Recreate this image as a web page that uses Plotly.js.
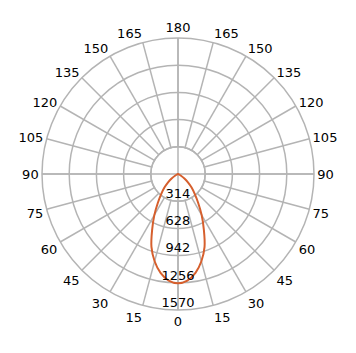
<!DOCTYPE html>
<html>
<head>
<meta charset="utf-8">
<script src="https://cdn.plot.ly/plotly-3.0.1.min.js"></script>
<style>html,body{margin:0;padding:0;background:#fff;}#chart{width:356px;height:353px;}</style>
</head>
<body>
<div id="chart"></div>
<script>
// Angular ticks (degrees) and their labels (0..180 on each side)
var angleTicks = [0,15,30,45,60,75,90,105,120,135,150,165,180,195,210,225,240,255,270,285,300,315,330,345];
var angleLabels = ['0','15','30','45','60','75','90','105','120','135','150','165','180','165','150','135','120','105','90','75','60','45','30','15'];
// Radial ticks
var radialTicks = [314, 628, 942, 1256, 1570];
var radialLabels = ['314', '628', '942', '1256', '1570'];
var radialMax = 1570;
// Intensity curve (cd) vs angle
var curveTheta = [0,5,10,15,20,25,30,35,40,45,50,55,60,65,70,90,180,270,290,295,300,305,310,315,320,325,330,335,340,345,350,355,360];
var curveR     = [1262,1236,1160,1043,896,705,545,405,300,222,150,90,40,10,0,0,0,0,0,10,40,90,150,222,300,405,545,705,896,1043,1160,1236,1262];

var grid = '#b4b4b4';
var lineCol = '#d65f2d';
var fontFam = 'DejaVu Sans, Verdana, sans-serif';

var traces = [
  {
    type: 'scatterpolar', subplot: 'polar',
    r: [radialMax], theta: [0], mode: 'markers',
    marker: {size: 1, opacity: 0},
    hoverinfo: 'skip', showlegend: false
  },
  {
    type: 'scatterpolar', subplot: 'polar2',
    r: curveR, theta: curveTheta, mode: 'lines',
    line: {color: lineCol, width: 2, shape: 'spline'},
    hoverinfo: 'skip', showlegend: false
  },
  {
    type: 'scatterpolar', subplot: 'polar2',
    r: radialTicks, theta: radialTicks.map(function(){return 0;}),
    mode: 'text', text: radialLabels, textposition: 'top center',
    textfont: {family: fontFam, size: 13, color: '#000'},
    hoverinfo: 'skip', showlegend: false
  }
];

var dom = {x: [0, 1], y: [0, 1]};
var layout = {
  width: 356, height: 353,
  margin: {l: 42, r: 42, t: 38, b: 43},
  paper_bgcolor: '#fff',
  showlegend: false,
  font: {family: fontFam, size: 13, color: '#000'},
  polar: {
    domain: dom,
    hole: radialTicks[0] / radialMax,
    bgcolor: '#fff',
    radialaxis: {range: [radialTicks[0], radialMax], showgrid: false, showticklabels: false, showline: false, ticks: ''},
    angularaxis: {
      rotation: 270, direction: 'counterclockwise',
      tickmode: 'array', tickvals: angleTicks, ticktext: angleLabels,
      showgrid: true, gridcolor: grid, gridwidth: 1.5,
      showline: true, linecolor: grid, linewidth: 1.5,
      ticks: '', tickfont: {family: fontFam, size: 13, color: '#000'}
    }
  },
  polar2: {
    domain: dom,
    bgcolor: 'rgba(0,0,0,0)',
    radialaxis: {range: [0, radialMax], tickmode: 'array', tickvals: radialTicks,
      showgrid: true, gridcolor: grid, gridwidth: 1.5,
      showticklabels: false, showline: false, ticks: ''},
    angularaxis: {
      rotation: 270, direction: 'counterclockwise',
      tickmode: 'array', tickvals: [0, 90, 180, 270],
      showgrid: true, gridcolor: grid, gridwidth: 1.5,
      showline: false, showticklabels: false, ticks: ''
    }
  }
};

Plotly.newPlot('chart', traces, layout, {displayModeBar: false, staticPlot: true});
</script>
</body>
</html>
